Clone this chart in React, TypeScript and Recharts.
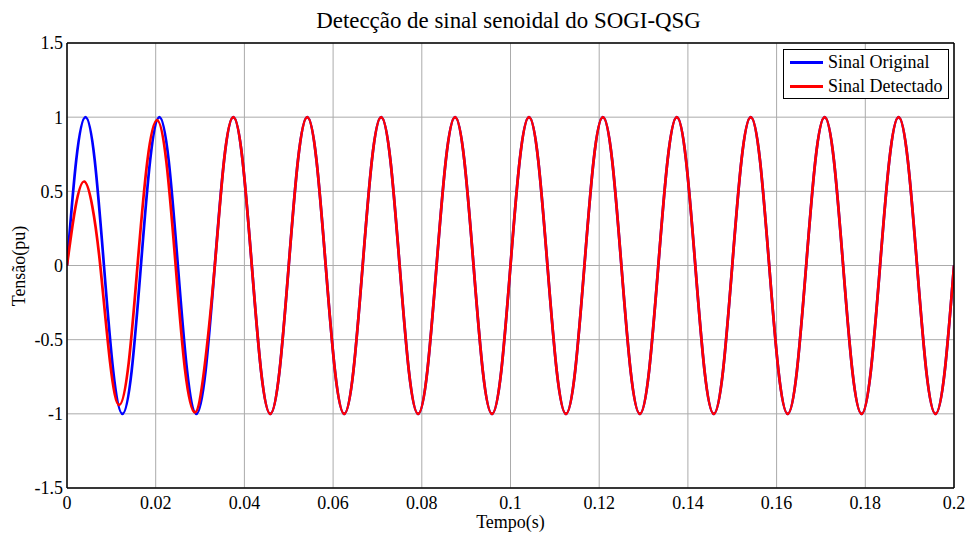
import { LineChart, Line, XAxis, YAxis, CartesianGrid, Legend } from "recharts";

const tempo = [
  0, 0.00208, 0.00417, 0.00625, 0.00833, 0.01042, 0.0125, 0.01458,
  0.01667, 0.01875, 0.02083, 0.02292, 0.025, 0.02708, 0.02917, 0.03125,
  0.03333, 0.03542, 0.0375, 0.03958, 0.04167, 0.04375, 0.04583, 0.04792,
  0.05, 0.05208, 0.05417, 0.05625, 0.05833, 0.06042, 0.0625, 0.06458,
  0.06667, 0.06875, 0.07083, 0.07292, 0.075, 0.07708, 0.07917, 0.08125,
  0.08333, 0.08542, 0.0875, 0.08958, 0.09167, 0.09375, 0.09583, 0.09792,
  0.1, 0.10208, 0.10417, 0.10625, 0.10833, 0.11042, 0.1125, 0.11458,
  0.11667, 0.11875, 0.12083, 0.12292, 0.125, 0.12708, 0.12917, 0.13125,
  0.13333, 0.13542, 0.1375, 0.13958, 0.14167, 0.14375, 0.14583, 0.14792,
  0.15, 0.15208, 0.15417, 0.15625, 0.15833, 0.16042, 0.1625, 0.16458,
  0.16667, 0.16875, 0.17083, 0.17292, 0.175, 0.17708, 0.17917, 0.18125,
  0.18333, 0.18542, 0.1875, 0.18958, 0.19167, 0.19375, 0.19583, 0.19792,
  0.2,
];

// sinal original, 60 Hz, amplitude 1 pu
const sinalOriginal = [
  0, 0.71, 1, 0.71, 0, -0.71, -1, -0.71,
  0, 0.71, 1, 0.71, 0, -0.71, -1, -0.71,
  0, 0.71, 1, 0.71, 0, -0.71, -1, -0.71,
  0, 0.71, 1, 0.71, 0, -0.71, -1, -0.71,
  0, 0.71, 1, 0.71, 0, -0.71, -1, -0.71,
  0, 0.71, 1, 0.71, 0, -0.71, -1, -0.71,
  0, 0.71, 1, 0.71, 0, -0.71, -1, -0.71,
  0, 0.71, 1, 0.71, 0, -0.71, -1, -0.71,
  0, 0.71, 1, 0.71, 0, -0.71, -1, -0.71,
  0, 0.71, 1, 0.71, 0, -0.71, -1, -0.71,
  0, 0.71, 1, 0.71, 0, -0.71, -1, -0.71,
  0, 0.71, 1, 0.71, 0, -0.71, -1, -0.71,
  0,
];

// transitorio do SOGI nos primeiros ciclos
const tempoTransitorio = [
  0, 0.00195, 0.0039, 0.0057, 0.0075, 0.0097, 0.0118, 0.0139, 0.0159,
  0.0181, 0.0203, 0.0224, 0.0245, 0.0266, 0.0288, 0.0309, 0.03333,
];
const sinalTransitorio = [
  0, 0.4, 0.566, 0.4, 0, -0.65, -0.94, -0.66, 0,
  0.7, 0.98, 0.7, 0, -0.7, -0.99, -0.71, 0,
];

const seriesNames = ["Sinal Original", "Sinal Detectado"];
const xTicks = [0, 0.02, 0.04, 0.06, 0.08, 0.1, 0.12, 0.14, 0.16, 0.18, 0.2];
const yTicks = [-1.5, -1, -0.5, 0, 0.5, 1, 1.5];

const dataOriginal = tempo.map((t, i) => ({ t, v: sinalOriginal[i] }));
const dataDetectado = [
  ...tempoTransitorio.map((t, i) => ({ t, v: sinalTransitorio[i] })),
  ...dataOriginal.slice(17),
];

const font = '"Liberation Serif", "Times New Roman", serif';
const tickStyle = { fill: "#000", fontSize: 18, fontFamily: font };

const LegendBox = ({ payload }: any) => {
  const items = [...(payload || [])].sort(
    (a: any, b: any) => seriesNames.indexOf(a.value) - seriesNames.indexOf(b.value)
  );
  return (
    <div
      style={{
        background: "#fff",
        border: "1px solid #000",
        width: 164,
        height: 48,
        fontFamily: font,
        fontSize: 18,
        color: "#000",
        textAlign: "left",
      }}
    >
      {items.map((p: any) => (
        <div key={p.value} style={{ display: "flex", alignItems: "center", height: 23, marginTop: 1 }}>
          <div style={{ width: 33, height: 3, background: p.color, marginLeft: 6, marginRight: 5 }} />
          <span>{p.value}</span>
        </div>
      ))}
    </div>
  );
};

const textBase = { position: "absolute" as const, color: "#000", zIndex: 2, lineHeight: 1 };

const App = () => {
  return (
    <div
      style={{
        position: "absolute",
        left: 0,
        top: 0,
        width: 968,
        height: 533,
        background: "#fff",
        fontFamily: font,
      }}
    >
      <style>{`.recharts-cartesian-axis-tick-value { font-family: ${font}; }`}</style>
      <div style={{ ...textBase, top: 10, left: 67, width: 883, textAlign: "center", fontSize: 22.9 }}>
        Detecção de sinal senoidal do SOGI-QSG
      </div>
      <div style={{ ...textBase, top: 513, left: 67, width: 887, textAlign: "center", fontSize: 18 }}>
        Tempo(s)
      </div>
      <div
        style={{
          ...textBase,
          left: 19,
          top: 266,
          transform: "translate(-50%, -50%) rotate(-90deg)",
          fontSize: 18,
          whiteSpace: "nowrap",
        }}
      >
        Tensão(pu)
      </div>

      <LineChart
        width={968}
        height={533}
        margin={{ top: 43, right: 14, bottom: 15, left: 7 }}
        style={{ fontFamily: font }}
      >
        <CartesianGrid stroke="#ababab" strokeWidth={1} />
        <XAxis
          dataKey="t"
          type="number"
          domain={[0, 0.2]}
          ticks={xTicks}
          height={30}
          tickLine={false}
          tickSize={0}
          tickMargin={8}
          axisLine={{ stroke: "#000", strokeWidth: 1.5 }}
          tick={tickStyle}
          allowDataOverflow
        />
        <YAxis
          type="number"
          domain={[-1.5, 1.5]}
          ticks={yTicks}
          width={60}
          tickLine={false}
          tickSize={0}
          tickMargin={4}
          axisLine={{ stroke: "#000", strokeWidth: 1.5 }}
          tick={tickStyle}
          allowDataOverflow
        />
        <XAxis xAxisId="top" orientation="top" mirror type="number" domain={[0, 0.2]} ticks={xTicks}
          tick={false} tickSize={5} tickLine={{ stroke: "#000" }} axisLine={{ stroke: "#000", strokeWidth: 1.5 }} />
        <XAxis xAxisId="bottomIn" orientation="bottom" mirror type="number" domain={[0, 0.2]} ticks={xTicks}
          tick={false} tickSize={5} tickLine={{ stroke: "#000" }} axisLine={false} />
        <YAxis yAxisId="right" orientation="right" mirror type="number" domain={[-1.5, 1.5]} ticks={yTicks}
          tick={false} tickSize={5} tickLine={{ stroke: "#000" }} axisLine={{ stroke: "#000", strokeWidth: 1.5 }} />
        <YAxis yAxisId="leftIn" orientation="left" mirror type="number" domain={[-1.5, 1.5]} ticks={yTicks}
          tick={false} tickSize={5} tickLine={{ stroke: "#000" }} axisLine={false} />
        <Legend
          layout="horizontal"
          verticalAlign="middle"
          align="center"
          content={<LegendBox />}
          wrapperStyle={{ position: "absolute", top: 49, left: 783, width: 166, height: 50 }}
        />
        <Line
          data={dataOriginal}
          dataKey="v"
          name={seriesNames[0]}
          type="natural"
          stroke="#0000ff"
          strokeWidth={2.7}
          dot={false}
          isAnimationActive={false}
        />
        <Line
          data={dataDetectado}
          dataKey="v"
          name={seriesNames[1]}
          type="natural"
          stroke="#ff0000"
          strokeWidth={2.7}
          dot={false}
          isAnimationActive={false}
        />
      </LineChart>
    </div>
  );
};

export default App;
